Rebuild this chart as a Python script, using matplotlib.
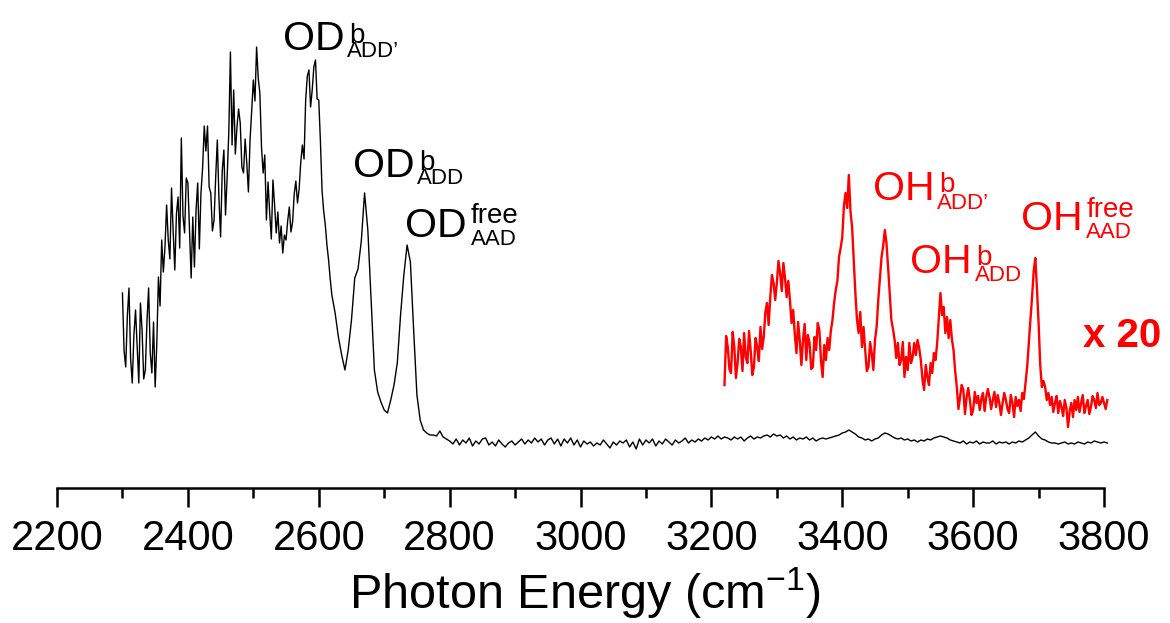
import numpy as np
import matplotlib
matplotlib.use('Agg')
import matplotlib.pyplot as plt
from matplotlib.ticker import FixedLocator

plt.rcParams['font.family'] = ['Liberation Sans', 'DejaVu Sans']
plt.rcParams['mathtext.fontset'] = 'custom'
plt.rcParams['mathtext.rm'] = 'Liberation Sans'
plt.rcParams['mathtext.it'] = 'Liberation Sans:italic'
plt.rcParams['mathtext.bf'] = 'Liberation Sans:bold'

# OD stretch region, 2300-2620 cm-1 every 2.5 cm-1 (arb. units)
od_x1 = np.arange(2300, 2621, 2.5)
od_band = [14.8, 9.0, 7.4, 12.5, 15.3, 8.2, 5.8, 10.6, 13.1, 9.5,
           5.8, 13.8, 11.1, 6.2, 7.1, 12.0, 15.3, 8.8, 6.8, 11.9,
           5.4, 9.7, 16.4, 13.5, 20.1, 16.9, 19.4, 23.6, 20.1, 18.2,
           25.3, 21.0, 17.1, 22.7, 24.4, 19.3, 30.3, 22.5, 20.8, 26.3,
           25.8, 21.1, 16.3, 22.4, 17.4, 23.1, 25.8, 19.2, 24.8, 27.3,
           31.5, 29.0, 31.5, 25.4, 24.8, 21.0, 22.1, 26.4, 30.1, 24.2,
           20.4, 27.0, 29.1, 22.6, 26.4, 30.8, 38.9, 29.6, 35.1, 28.7,
           31.4, 33.2, 31.8, 27.4, 26.8, 30.2, 27.8, 24.9, 30.1, 33.0,
           36.1, 34.0, 39.4, 36.3, 34.8, 29.4, 26.8, 28.6, 22.1, 25.9,
           22.8, 20.2, 26.1, 23.6, 20.8, 22.9, 19.8, 21.5, 18.8, 20.6,
           20.1, 22.0, 23.4, 20.9, 21.9, 24.7, 26.0, 23.8, 25.2, 27.9,
           29.6, 28.2, 34.1, 36.5, 37.1, 33.4, 35.1, 37.4, 38.1, 34.2,
           34.1, 30.0, 25.1, 23.0, 21.6, 19.6, 18.1, 16.2, 14.6]

# 2625-3805 cm-1 every 5 cm-1
od_x2 = np.arange(2625, 3806, 5)
od_peaks = [12.8, 10.4, 8.6, 7.1, 9.1, 12.1, 16.3, 17.2, 20.0, 24.8,
            21.1, 14.1, 7.1, 4.9, 3.9, 3.1, 2.8, 4.1, 5.6, 7.8,
            12.6, 16.6, 19.6, 17.9, 11.1, 4.6, 2.1, 1.1, 0.8, 0.6]
od_base = [0.6, 0.5, 1.0, 0.4, 0.2, 0.0, -0.3, 0.2, -0.4, 0.1,
           -0.2, 0.3, -0.5, 0.0, -0.3, 0.2, 0.3, -0.4, -0.1, -0.5,
           0.1, -0.3, -0.6, -0.2, 0.0, -0.4, -0.1, 0.2, -0.3, 0.1,
           -0.2, 0.3, -0.1, 0.2, -0.4, 0.1, 0.3, -0.3, 0.2, -0.5,
           0.2, -0.2, 0.3, -0.4, 0.1, -0.6, 0.0, -0.3, -0.1, -0.5,
           -0.2, -0.4, 0.1, -0.3, -0.7, -0.1, -0.4, 0.0, -0.2, 0.1,
           -0.6, -0.1, -0.8, 0.2, -0.4, 0.1, -0.2, 0.2, -0.5, 0.0,
           -0.3, 0.2, -0.1, -0.4, 0.1, -0.2, 0.0, 0.3, -0.2, 0.1,
           -0.1, 0.2, 0.0, 0.3, 0.1, 0.4, 0.2, 0.5, 0.2, 0.4,
           0.3, 0.1, 0.4, 0.2, 0.4, 0.0, 0.3, 0.5, 0.2, 0.4,
           0.3, 0.5, 0.6, 0.4, 0.7, 0.5, 0.6, 0.3, 0.5, 0.2,
           0.4, 0.1, 0.3, 0.2, 0.4, 0.1, 0.3, 0.0, 0.2, 0.3,
           0.2, 0.3, 0.4, 0.5, 0.6, 0.8, 0.9, 1.1, 0.9, 0.7,
           0.4, 0.3, 0.1, 0.2, 0.0, 0.2, 0.3, 0.6, 0.8, 0.7,
           0.5, 0.3, 0.2, 0.3, 0.1, 0.2, 0.0, 0.1, -0.1, 0.1,
           0.0, 0.2, 0.1, 0.3, 0.4, 0.5, 0.4, 0.3, 0.1, 0.0,
           -0.1, -0.2, 0.0, -0.3, -0.1, -0.2, 0.0, -0.3, -0.1, -0.2,
           -0.2, 0.0, -0.3, -0.1, -0.2, -0.1, -0.3, -0.1, -0.2, 0.0,
           -0.1, 0.1, 0.3, 0.6, 0.9, 0.5, 0.2, 0.1, -0.1, -0.2,
           -0.2, -0.3, -0.2, -0.1, -0.3, -0.2, -0.3, -0.1, -0.2, -0.3,
           -0.1, -0.2, 0.0, -0.1, -0.2, -0.1, -0.2]

od_x = np.concatenate([od_x1, od_x2])
od_y = np.concatenate([od_band, od_peaks, od_base])

# OH stretch region, shown x 20 and offset, every 2.5 cm-1
oh_x = np.arange(3220, 3806, 2.5)
oh_a = [5.6, 10.5, 9.4, 7.2, 6.8, 10.9, 9.4, 6.3, 7.8, 10.2,
        9.4, 7.0, 10.8, 8.4, 7.8, 11.0, 9.1, 6.6, 7.4, 10.3,
        9.4, 8.0, 11.4, 9.2, 10.4, 12.9, 13.8, 11.6, 14.4, 16.6,
        15.8, 14.1, 15.8, 18.0, 16.8, 15.0, 17.8, 16.3, 14.4, 16.0,
        14.1, 11.8, 13.1, 10.6, 8.8, 11.9, 10.1, 7.6, 10.1, 11.7,
        8.1, 10.6, 9.8, 7.2, 7.4, 10.4, 9.1, 11.8, 11.1, 8.0,
        6.4, 9.6, 8.1, 10.3, 9.1, 11.0, 12.1, 13.8, 15.1, 16.0,
        18.4, 19.3, 20.4, 23.5, 24.8, 23.3, 26.6, 23.0, 21.4, 18.2,
        14.8, 12.1, 10.8, 12.9, 9.4, 11.4, 9.1, 7.0, 7.4, 9.9,
        8.8, 7.1, 10.1, 11.4, 14.1, 16.2, 18.4, 19.5, 21.1, 19.8,
        17.4, 14.7, 12.1, 11.2, 10.1, 8.3, 9.8, 7.6, 8.1, 9.9,
        6.4, 8.4, 7.1, 9.8, 7.8, 8.4]
oh_b = [9.8, 8.6, 10.1, 9.3, 8.1, 6.2, 5.1, 7.6, 6.4, 5.6,
        7.8, 6.8, 8.8, 8.1, 9.8, 12.3, 14.8, 12.6, 13.4, 10.8,
        12.4, 10.3, 12.1, 10.2, 9.1, 7.0, 5.4, 3.2, 4.4, 5.6,
        5.1, 2.7, 4.4, 5.3, 4.1, 2.6, 3.1, 4.9, 3.8, 4.5,
        3.1, 4.2, 4.8, 3.0, 4.4, 5.2, 4.4, 3.2, 4.1, 4.9,
        3.4, 4.6, 3.8, 2.6, 3.8, 4.8, 4.1, 3.2, 2.8, 4.6,
        3.8, 2.4, 4.4, 3.5, 4.1, 3.0, 4.8, 4.2, 5.8, 7.4,
        9.8, 12.1, 14.4, 17.0, 18.3, 15.2, 11.8, 7.6, 5.4, 6.0,
        5.4, 4.1, 4.8, 3.6, 4.4, 2.9, 3.8, 4.5, 2.8, 4.0,
        3.4, 2.5, 4.1, 3.3, 1.4, 3.0, 3.8, 2.4, 4.1, 3.1,
        4.4, 2.9, 3.8, 4.6, 2.8, 3.5, 4.1, 2.7, 3.4, 4.5,
        4.1, 3.3, 4.8, 3.6, 3.8, 4.4, 3.8, 3.2, 4.1]
oh_y = np.concatenate([oh_a, oh_b])

assert len(od_x) == len(od_y) and len(oh_x) == len(oh_y)

# peak labels: (main, superscript, subscript)
od_labels = [("OD", "b", "ADD\u2019"), ("OD", "b", "ADD"), ("OD", "free", "AAD")]
oh_labels = [("OH", "b", "ADD\u2019"), ("OH", "b", "ADD"), ("OH", "free", "AAD")]

W, H = 1170, 623
fig = plt.figure(figsize=(W / 100, H / 100), dpi=100)
ax = fig.add_axes([0, (H - 488) / H, 1, 488 / H])

ax.plot(od_x, od_y, color='black', lw=1.0)
ax.plot(oh_x, oh_y, color='#ff0000', lw=1.7)

ax.set_xlim(2200 - 57 / 0.6544, 2200 + 1113 / 0.6544)
ax.set_ylim(-4.7, 44.1)

for s in ['top', 'right', 'left']:
    ax.spines[s].set_visible(False)
ax.spines['bottom'].set_bounds(2200, 3800)
ax.spines['bottom'].set_linewidth(1.8)
ax.set_yticks([])
ax.set_xticks(np.arange(2200, 3801, 200))
ax.xaxis.set_minor_locator(FixedLocator(np.arange(2300, 3800, 200)))
ax.tick_params(axis='x', which='major', direction='out', length=13.5, width=1.8,
               labelsize=30, pad=9)
ax.tick_params(axis='x', which='minor', direction='out', length=7.5, width=1.8)
ax.set_xlabel('Photon Energy (cm$^{-1}$)', fontsize=35, labelpad=5)


def put(x, y, s, size, color, weight='normal'):
    fig.text(x / W, 1 - y / H, s, fontsize=size, color=color,
             ha='left', va='baseline', fontweight=weight)


# pixel anchors: main (x, baseline), sup (x, baseline), sub (x, baseline)
od_pos = [((283, 50), (349, 43), (347, 57)),
          ((353, 177), (419, 170), (417, 184)),
          ((405, 237), (471, 223), (471, 245))]
oh_pos = [((873, 200), (939, 192), (937, 209)),
          ((910, 273), (976, 265), (975, 281)),
          ((1021, 230), (1087, 217), (1086, 238))]

for labels, positions, col in [(od_labels, od_pos, 'black'), (oh_labels, oh_pos, '#ff0000')]:
    for (main, sup, sub), (pm, ps, pb) in zip(labels, positions):
        put(pm[0], pm[1], main, 29.5, col)
        put(ps[0], ps[1], sup, 20, col)
        put(pb[0], pb[1], sub, 16, col)

put(1083, 347, "x 20", 29, '#ff0000', weight='bold')

fig.savefig('out.png', dpi=100)
